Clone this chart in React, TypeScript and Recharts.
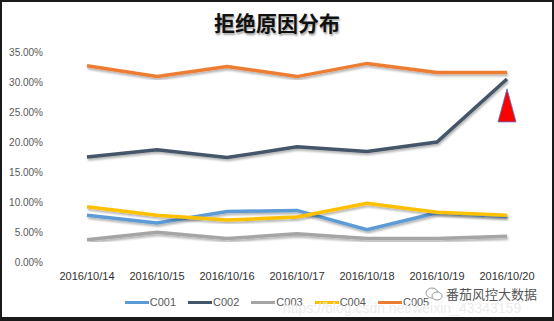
import React from "react";
import { LineChart, Line, XAxis, YAxis, Legend, ReferenceDot } from "recharts";

const categories = ["2016/10/14", "2016/10/15", "2016/10/16", "2016/10/17", "2016/10/18", "2016/10/19", "2016/10/20"];
const c001 = [7.8, 6.5, 8.4, 8.6, 5.4, 8.2, 7.6];
const c002 = [17.5, 18.7, 17.4, 19.2, 18.4, 20.0, 30.5];
const c003 = [3.7, 4.95, 3.9, 4.7, 3.9, 3.9, 4.3];
const c004 = [9.2, 7.8, 7.0, 7.5, 9.8, 8.3, 7.8];
const c005 = [32.7, 30.9, 32.6, 30.9, 33.1, 31.6, 31.6];
const yTicks = [0, 5, 10, 15, 20, 25, 30, 35];
const seriesNames = ["C001", "C002", "C003", "C004", "C005"];
const seriesColors = ["#5B9BD5", "#44546A", "#A5A5A5", "#FFC000", "#ED7D31"];
const markerCategory = "2016/10/20";
const markerValue = 26.1;

const data = categories.map((d, i) => ({
  date: d,
  C001: c001[i],
  C002: c002[i],
  C003: c003[i],
  C004: c004[i],
  C005: c005[i],
}));

const Triangle = (props: any) => {
  const { cx, cy } = props;
  if (cx == null || cy == null) return null;
  const pts = `${cx},${cy - 16.5} ${cx - 9},${cy + 16.5} ${cx + 9},${cy + 16.5}`;
  return <polygon points={pts} fill="#FF0000" stroke="#4472C4" strokeWidth={0.8} />;
};

const LegendContent = () => (
  <div style={{ display: "flex", justifyContent: "center", alignItems: "center", width: 554 }}>
    {seriesNames.map((n, i) => (
      <div key={n} style={{ display: "flex", alignItems: "center", margin: "0 6px" }}>
        <div style={{ width: 24, height: 3, background: seriesColors[i] }} />
        <span style={{ marginLeft: 1, fontFamily: "Liberation Sans", fontSize: 11, color: "#595959", lineHeight: "12px" }}>{n}</span>
      </div>
    ))}
  </div>
);

export default function App() {
  return (
    <div style={{ position: "absolute", left: 0, top: 0, width: 554, height: 321, background: "#fff" }}>
      <div
        style={{
          position: "absolute",
          left: 0,
          top: 8,
          width: 554,
          textAlign: "center",
          fontFamily: "'Noto Sans CJK SC'",
          fontWeight: 700,
          fontSize: 21,
          lineHeight: "28px",
          color: "#111",
          textShadow: "1px 2px 2px rgba(0,0,0,0.35)",
          zIndex: 2,
        }}
      >
        拒绝原因分布
      </div>
      <LineChart width={554} height={321} data={data} margin={{ top: 52, right: 12, bottom: 29, left: 8 }}>
        <defs>
          <filter id="shadow" x="-5%" y="-20%" width="110%" height="140%">
            <feDropShadow dx="1" dy="2" stdDeviation="1" floodColor="#000" floodOpacity="0.3" />
          </filter>
        </defs>
        <XAxis
          dataKey="date"
          axisLine={false}
          tickLine={false}
          tickSize={0}
          tickMargin={10}
          height={30}
          interval={0}
          padding={{ left: 35, right: 35 }}
          tick={{ fontFamily: "Liberation Sans", fontSize: 11, fill: "#303030" }}
        />
        <YAxis
          domain={[0, 35]}
          ticks={yTicks}
          axisLine={false}
          tickLine={false}
          tickSize={0}
          tickMargin={9}
          width={44}
          tickFormatter={(v: number) => `${v.toFixed(2)}%`}
          tick={{ fontFamily: "Liberation Sans", fontSize: 10, fill: "#595959" }}
        />
        {seriesNames.map((n, i) => (
          <Line
            key={n}
            dataKey={n}
            type="linear"
            stroke={seriesColors[i]}
            strokeWidth={3.5}
            dot={false}
            activeDot={false}
            isAnimationActive={false}
            filter="url(#shadow)"
          />
        ))}
        <ReferenceDot x={markerCategory} y={markerValue} r={9} shape={Triangle} />
        <Legend
          layout="horizontal"
          verticalAlign="middle"
          align="center"
          content={LegendContent}
          wrapperStyle={{ position: "absolute", top: 296, left: 0, width: 554, height: 12 }}
        />
      </LineChart>
      <div
        style={{
          position: "absolute",
          left: 283,
          top: 300,
          fontFamily: "Liberation Sans",
          fontSize: 14,
          color: "#ececec",
          whiteSpace: "nowrap",
          pointerEvents: "none",
        }}
      >
        https://blog.csdn.net/weixin_43343159
      </div>
      <div
        style={{
          position: "absolute",
          left: 424,
          top: 285,
          display: "flex",
          alignItems: "center",
          pointerEvents: "none",
        }}
      >
        <svg width={20} height={16}>
          <ellipse cx={8} cy={7} rx={6} ry={5} fill="none" stroke="#999" strokeWidth={1} />
          <ellipse cx={13} cy={10} rx={5} ry={4} fill="#fff" stroke="#999" strokeWidth={1} />
        </svg>
        <span style={{ fontFamily: "'Noto Sans CJK SC'", fontSize: 13, color: "#555", marginLeft: 2, lineHeight: "18px" }}>
          番茄风控大数据
        </span>
      </div>
      <div
        style={{
          position: "absolute",
          left: 0,
          top: 0,
          width: 554,
          height: 321,
          boxSizing: "border-box",
          borderTop: "2px solid #1a1a1a",
          borderLeft: "2px solid #1a1a1a",
          borderRight: "2px solid #1a1a1a",
          borderBottom: "4px solid #1a1a1a",
          pointerEvents: "none",
        }}
      />
    </div>
  );
}
